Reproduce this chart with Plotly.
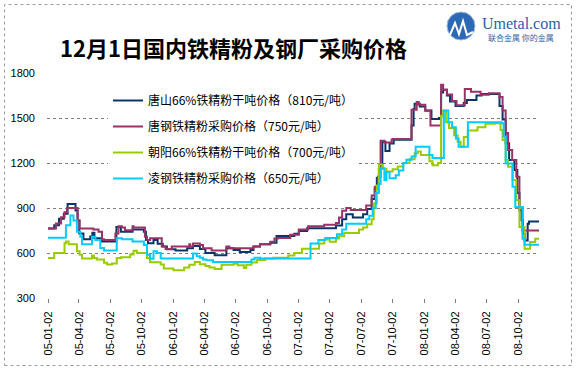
import plotly.graph_objects as go

# ---------------- data ----------------
tick_dates = ["2005-01-02", "2005-04-02", "2005-07-02", "2005-10-02",
              "2006-01-02", "2006-04-02", "2006-07-02", "2006-10-02",
              "2007-01-02", "2007-04-02", "2007-07-02", "2007-10-02",
              "2008-01-02", "2008-04-02", "2008-07-02", "2008-10-02"]
tick_labels = ["05-01-02", "05-04-02", "05-07-02", "05-10-02",
               "06-01-02", "06-04-02", "06-07-02", "06-10-02",
               "07-01-02", "07-04-02", "07-07-02", "07-10-02",
               "08-01-02", "08-04-02", "08-07-02", "08-10-02"]
y_ticks = [300, 600, 900, 1200, 1500, 1800]

series_names = ["唐山66%铁精粉干吨价格（810元/吨）",
                "唐钢铁精粉采购价格（750元/吨）",
                "朝阳66%铁精粉干吨价格（700元/吨）",
                "凌钢铁精粉采购价格（650元/吨）"]

tangshan_dates = ["2005-01-02", "2005-01-20", "2005-02-03", "2005-02-17", "2005-02-28", "2005-03-23",
                  "2005-03-29", "2005-04-03", "2005-04-15", "2005-05-05", "2005-05-11", "2005-05-17",
                  "2005-06-08", "2005-07-20", "2005-08-02", "2005-09-05", "2005-10-08", "2005-10-14",
                  "2005-10-20", "2005-11-05", "2005-11-17", "2005-12-02", "2005-12-14", "2006-01-08",
                  "2006-02-11", "2006-02-28", "2006-03-20", "2006-04-05", "2006-05-02", "2006-06-05",
                  "2006-06-26", "2006-07-14", "2006-08-14", "2006-08-23", "2006-09-11", "2006-10-11",
                  "2006-10-29", "2006-12-20", "2007-01-02", "2007-01-26", "2007-04-20", "2007-05-08",
                  "2007-05-20", "2007-06-08", "2007-07-08", "2007-07-20", "2007-08-02", "2007-08-11",
                  "2007-08-17", "2007-08-23", "2007-09-02", "2007-09-11", "2007-09-23", "2007-10-05",
                  "2007-11-26", "2007-12-02", "2007-12-05", "2007-12-20", "2008-01-05", "2008-01-23",
                  "2008-02-14", "2008-02-20", "2008-02-26", "2008-03-08", "2008-03-17", "2008-04-02",
                  "2008-04-26", "2008-05-05", "2008-06-02", "2008-06-17", "2008-08-08", "2008-08-17",
                  "2008-08-26", "2008-09-05", "2008-09-20", "2008-09-29", "2008-10-05", "2008-10-11",
                  "2008-10-15", "2008-10-20", "2008-10-29", "2008-11-02", "2008-12-01"]
tangshan_vals = [763, 785, 828, 861, 926, 883,
                 817, 730, 691, 710, 735, 698,
                 676, 774, 741, 757, 741, 687,
                 665, 687, 661, 643, 625, 617,
                 632, 647, 626, 600, 585, 632,
                 620, 606, 620, 643, 658, 669,
                 714, 729, 746, 765, 784, 825,
                 859, 836, 859, 893, 960, 1030,
                 1100, 1160, 1342, 1280, 1330, 1355,
                 1450, 1560, 1595, 1577, 1550, 1493,
                 1500, 1670, 1689, 1650, 1610, 1580,
                 1600, 1620, 1650, 1660, 1580, 1490,
                 1331, 1220, 1153, 1000, 885, 818,
                 729, 684, 795, 810, 810]

tanggang_dates = ["2005-01-02", "2005-01-25", "2005-02-09", "2005-02-19", "2005-02-26", "2005-03-29",
                  "2005-04-04", "2005-05-14", "2005-05-29", "2005-06-08", "2005-06-14", "2005-07-17",
                  "2005-07-26", "2005-08-05", "2005-08-14", "2005-09-05", "2005-09-08", "2005-10-11",
                  "2005-10-17", "2005-10-26", "2005-11-29", "2005-12-10", "2005-12-28", "2006-02-17",
                  "2006-02-20", "2006-02-28", "2006-03-20", "2006-03-29", "2006-04-23", "2006-06-05",
                  "2006-06-14", "2006-08-23", "2006-09-11", "2006-10-11", "2006-10-23", "2006-11-03",
                  "2006-12-08", "2007-01-02", "2007-01-29", "2007-03-17", "2007-04-20", "2007-04-29",
                  "2007-05-08", "2007-05-20", "2007-06-02", "2007-07-17", "2007-08-02", "2007-08-11",
                  "2007-08-20", "2007-08-28", "2007-09-08", "2007-09-29", "2007-10-02", "2007-11-26",
                  "2007-12-11", "2007-12-17", "2008-01-05", "2008-01-20", "2008-02-20", "2008-02-26",
                  "2008-03-08", "2008-03-23", "2008-04-05", "2008-04-29", "2008-05-17", "2008-06-14",
                  "2008-07-08", "2008-08-08", "2008-08-17", "2008-08-26", "2008-09-02", "2008-09-14",
                  "2008-09-26", "2008-10-05", "2008-10-14", "2008-12-01"]
tanggang_vals = [763, 796, 839, 872, 900, 817,
                 763, 757, 741, 691, 687, 730,
                 778, 770, 752, 778, 770, 709,
                 687, 698, 643, 626, 643, 658,
                 643, 664, 653, 632, 617, 643,
                 632, 643, 658, 675, 696, 700,
                 722, 756, 778, 789, 800, 836,
                 882, 900, 886, 916, 984, 1041,
                 1109, 1348, 1336, 1355, 1360, 1555,
                 1607, 1588, 1548, 1450, 1722, 1689,
                 1657, 1613, 1585, 1693, 1675, 1655,
                 1665, 1640, 1550, 1400, 1287, 1220,
                 1108, 907, 750, 750]

chaoyang_dates = ["2005-01-02", "2005-01-20", "2005-02-19", "2005-02-23", "2005-03-03", "2005-03-27",
                  "2005-04-04", "2005-04-11", "2005-05-10", "2005-05-16", "2005-05-24", "2005-06-14",
                  "2005-06-23", "2005-07-07", "2005-07-21", "2005-08-02", "2005-08-29", "2005-09-08",
                  "2005-09-18", "2005-10-17", "2005-10-26", "2005-11-26", "2005-12-05", "2006-01-02",
                  "2006-02-02", "2006-02-17", "2006-03-05", "2006-03-20", "2006-04-05", "2006-04-17",
                  "2006-05-02", "2006-05-22", "2006-06-26", "2006-07-08", "2006-07-26", "2006-08-02",
                  "2006-08-17", "2006-09-02", "2006-09-26", "2006-10-20", "2006-12-02", "2006-12-20",
                  "2007-01-11", "2007-03-02", "2007-03-17", "2007-04-02", "2007-04-20", "2007-04-29",
                  "2007-05-14", "2007-06-26", "2007-07-08", "2007-07-20", "2007-08-02", "2007-08-08",
                  "2007-08-17", "2007-08-23", "2007-09-02", "2007-09-14", "2007-10-02", "2007-10-17",
                  "2007-11-02", "2007-11-20", "2007-12-05", "2007-12-14", "2007-12-23", "2008-01-17",
                  "2008-01-26", "2008-02-11", "2008-02-20", "2008-02-26", "2008-03-05", "2008-03-14",
                  "2008-03-29", "2008-04-08", "2008-04-17", "2008-04-26", "2008-05-08", "2008-06-05",
                  "2008-06-28", "2008-07-26", "2008-08-11", "2008-08-17", "2008-08-26", "2008-09-02",
                  "2008-09-15", "2008-09-26", "2008-10-05", "2008-10-20", "2008-11-05", "2008-11-20",
                  "2008-12-01"]
chaoyang_vals = [567, 600, 665, 676, 659, 611,
                 589, 563, 583, 567, 556, 535,
                 524, 530, 567, 572, 590, 615,
                 600, 567, 539, 524, 496, 485,
                 504, 521, 540, 525, 514, 504,
                 493, 521, 529, 519, 500, 521,
                 536, 553, 564, 568, 583, 600,
                 628, 664, 690, 675, 696, 711,
                 734, 757, 770, 791, 825, 930,
                 1050, 1190, 1160, 1143, 1159, 1177,
                 1200, 1225, 1265, 1276, 1254, 1211,
                 1185, 1200, 1515, 1548, 1472, 1433,
                 1385, 1341, 1309, 1374, 1417, 1439,
                 1461, 1465, 1420, 1354, 1220, 1175,
                 1086, 952, 773, 628, 673, 695,
                 700]

linggang_dates = ["2005-01-02", "2005-02-23", "2005-03-08", "2005-03-17", "2005-03-27", "2005-04-06",
                  "2005-04-11", "2005-05-10", "2005-05-20", "2005-06-03", "2005-06-14", "2005-07-21",
                  "2005-08-05", "2005-09-05", "2005-10-08", "2005-10-17", "2005-10-26", "2005-11-05",
                  "2005-11-15", "2005-11-26", "2006-02-28", "2006-03-11", "2006-03-20", "2006-03-29",
                  "2006-04-08", "2006-04-27", "2006-08-17", "2006-08-26", "2006-09-11", "2007-02-05",
                  "2007-02-28", "2007-03-20", "2007-04-23", "2007-05-08", "2007-05-20", "2007-07-17",
                  "2007-07-26", "2007-08-05", "2007-08-14", "2007-08-23", "2007-08-28", "2007-09-08",
                  "2007-09-14", "2007-09-23", "2007-10-11", "2007-10-20", "2007-11-02", "2007-11-11",
                  "2007-11-26", "2007-12-08", "2008-01-17", "2008-01-26", "2008-02-28", "2008-03-12",
                  "2008-03-23", "2008-04-03", "2008-04-11", "2008-05-08", "2008-08-14", "2008-08-20",
                  "2008-08-26", "2008-09-15", "2008-09-23", "2008-10-14", "2008-10-20", "2008-12-01"]
linggang_vals = [702, 785, 850, 817, 741, 709,
                 659, 709, 687, 633, 617, 698,
                 691, 676, 654, 589, 561, 611,
                 600, 563, 596, 579, 568, 557,
                 551, 540, 557, 568, 564, 664,
                 686, 700, 725, 757, 795, 825,
                 848, 900, 1000, 1060, 1165, 1086,
                 1140, 1098, 1119, 1150, 1200, 1222,
                 1243, 1309, 1254, 1233, 1550, 1472,
                 1439, 1363, 1309, 1472, 1465, 1376,
                 1197, 1041, 907, 695, 655, 650]

# ---------------- styling / layout ----------------
W, H = 576, 370
L, R, T, B = 47, 539, 73, 298


def px(x):
    return (x - L) / (R - L)


def py(y):
    return (B - y) / (B - T)


colors = ["#0B3566", "#993366", "#99CC00", "#00CCFF"]
series = [(tangshan_dates, tangshan_vals), (tanggang_dates, tanggang_vals),
          (chaoyang_dates, chaoyang_vals), (linggang_dates, linggang_vals)]

fig = go.Figure()
for name, (xs, ys), c in zip(series_names, series, colors):
    fig.add_trace(go.Scatter(x=xs, y=ys, name=name, mode="lines", legendgroup=name,
                             line=dict(color=c, width=2, shape="hv")))

fig.update_layout(
    width=W, height=H,
    margin=dict(l=L, r=W - R, t=T, b=H - B, pad=0),
    paper_bgcolor="white", plot_bgcolor="white",
    showlegend=True,
    legend=dict(x=px(108), y=py(86), xanchor="left", yanchor="top",
                bgcolor="white", borderwidth=0, tracegroupgap=7, itemwidth=30,
                font=dict(family="Noto Sans CJK SC", size=12, color="black")),
    xaxis=dict(type="date", range=["2004-12-30", "2008-12-01"],
               tickmode="array", tickvals=tick_dates, ticktext=tick_labels,
               tickangle=-90, ticks="outside", ticklen=4, tickcolor="#808080",
               showgrid=False, showline=False, zeroline=False,
               ticklabelstandoff=4,
               tickfont=dict(family="Liberation Sans", size=11, color="black")),
    yaxis=dict(range=[300, 1800], tickmode="array", tickvals=y_ticks,
               showgrid=True, gridcolor="#808080", griddash="dot", gridwidth=1,
               showline=False, zeroline=False, ticks="",
               ticklabelstandoff=11,
               tickfont=dict(family="Liberation Sans", size=11, color="black")),
)

# outer chart-area border
fig.add_shape(type="rect", xref="paper", yref="paper",
              x0=px(4.5), x1=px(571.5), y0=py(365.5), y1=py(4.5),
              line=dict(color="#9A9A9A", width=1, dash="dot"), layer="below")

# title
fig.add_annotation(text="<b>12月1日国内铁精粉及钢厂采购价格</b>", xref="paper", yref="paper",
                   x=px(233), y=py(47), xanchor="center", yanchor="middle", showarrow=False,
                   font=dict(family="Noto Sans CJK SC", size=22, color="black"))

# logo
fig.add_shape(type="circle", xref="paper", yref="paper",
              x0=px(447), x1=px(475), y0=py(40), y1=py(12),
              fillcolor="#2D68B4", line=dict(color="#9DB9DD", width=1))
fig.add_shape(type="path", xref="paper", yref="paper",
              path=(f"M {px(450)},{py(35)} L {px(455)},{py(23)} L {px(459)},{py(34)} "
                    f"L {px(463)},{py(21)} L {px(467)},{py(35)} L {px(473)},{py(32)}"),
              line=dict(color="white", width=2))
fig.add_annotation(text="Umetal.com", xref="paper", yref="paper",
                   x=px(521), y=py(24), xanchor="center", yanchor="middle", showarrow=False,
                   font=dict(family="Liberation Serif", size=16, color="#2D5FA6"))
fig.add_annotation(text="联合金属 你的金属", xref="paper", yref="paper",
                   x=px(521), y=py(37), xanchor="center", yanchor="middle", showarrow=False,
                   font=dict(family="Noto Sans CJK SC", size=8, color="#2D5FA6"))

fig.write_html("out.html", config={"displayModeBar": False},
               post_script="document.body.style.margin='0';")
